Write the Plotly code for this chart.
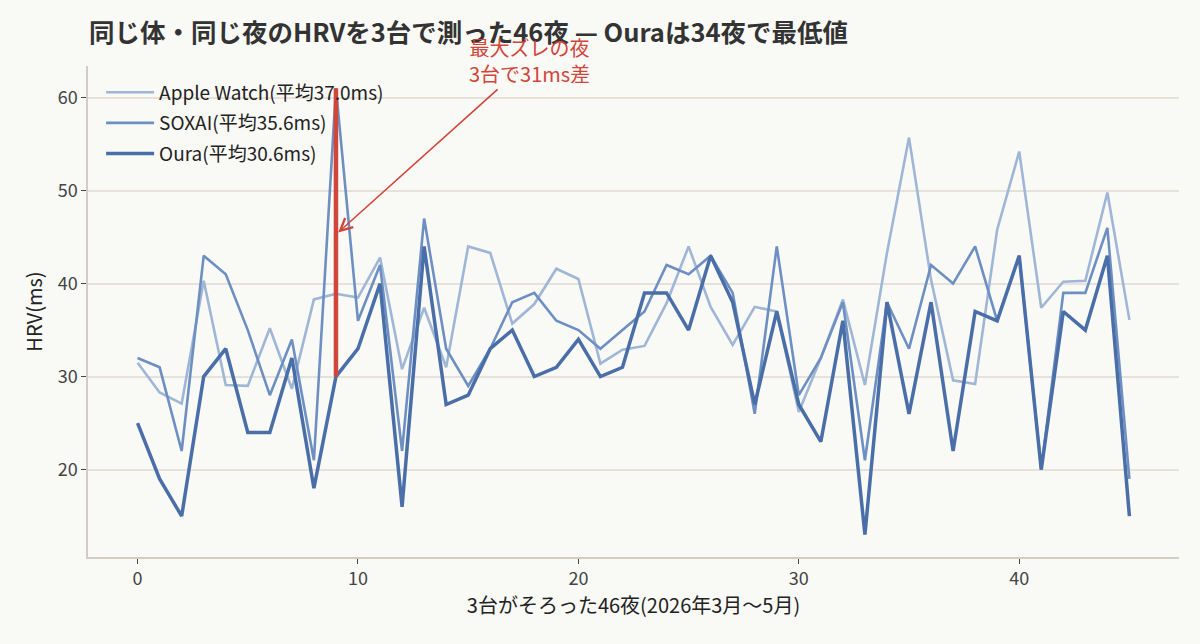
import plotly.graph_objects as go

nights = list(range(46))
apple = [31.5, 28.3, 27.1, 40.3, 29.1, 29.0, 35.2, 28.7, 38.3, 38.9,
         38.5, 42.8, 30.8, 37.4, 31.0, 44.0, 43.3, 35.7, 37.8, 41.6,
         40.5, 31.4, 32.9, 33.3, 37.9, 44.0, 37.5, 33.4, 37.5, 37.0,
         26.2, 32.0, 38.3, 29.1, 43.3, 55.7, 40.4, 29.6, 29.2, 45.8,
         54.2, 37.4, 40.2, 40.3, 49.8, 36.1]
soxai = [32, 31, 22, 43, 41, 35, 28, 34, 21, 61,
         36, 42, 22, 47, 33, 29, 33, 38, 39, 36,
         35, 33, 35, 37, 42, 41, 43, 39, 26, 44,
         28, 32, 38, 21, 38, 33, 42, 40, 44, 36,
         43, 20, 39, 39, 46, 19]
oura = [25, 19, 15, 30, 33, 24, 24, 32, 18, 30,
        33, 40, 16, 44, 27, 28, 33, 35, 30, 31,
        34, 30, 31, 39, 39, 35, 43, 38, 27, 37,
        27, 23, 36, 13, 38, 26, 38, 22, 37, 36,
        43, 20, 37, 35, 43, 15]

names = ["Apple Watch", "SOXAI", "Oura"]
series = [apple, soxai, oura]
colors = ["#9fb6d6", "#6d8fc2", "#4a6fa8"]
widths = [2.6, 2.6, 3.5]

FONT = "Noto Sans CJK JP"
BG = "#f9f9f6"

fig = go.Figure()
for nm, vals, c, w in zip(names, series, colors, widths):
    mean = sum(vals) / len(vals)
    fig.add_trace(go.Scatter(x=nights, y=vals, mode="lines",
                             name=f"{nm}(平均{mean:.1f}ms)", legendgroup=nm,
                             line=dict(color=c, width=w)))

# night with the largest spread
spreads = [max(a, s, o) - min(a, s, o) for a, s, o in zip(apple, soxai, oura)]
imax = spreads.index(max(spreads))
vmax = max(apple[imax], soxai[imax], oura[imax])
vmin = min(apple[imax], soxai[imax], oura[imax])
fig.add_trace(go.Scatter(x=[imax, imax], y=[vmin, vmax], mode="lines",
                         line=dict(color="#d0463b", width=4.5),
                         showlegend=False, hoverinfo="skip"))

fig.add_annotation(x=imax + 0.1, y=(vmin + vmax) / 2, xref="x", yref="y",
                   ax=17.8, ay=64.0, axref="x", ayref="y",
                   text=f"最大ズレの夜<br>3台で{vmax - vmin:.0f}ms差",
                   showarrow=True, arrowhead=5, arrowsize=1.5, arrowwidth=1.6,
                   arrowcolor="#d0463b", standoff=0,
                   font=dict(family=FONT, size=20, color="#d0463b"),
                   align="center")

fig.update_layout(
    width=1200, height=644,
    paper_bgcolor=BG, plot_bgcolor=BG,
    margin=dict(l=88, r=21, t=66, b=87),
    font=dict(family=FONT, size=18, color="#333333"),
    title=dict(text="<b>同じ体・同じ夜のHRVを3台で測った46夜 — Ouraは34夜で最低値</b>",
               x=89 / 1200, xref="container", xanchor="left",
               y=1 - 33 / 644, yref="container", yanchor="middle",
               font=dict(family=FONT, size=25.5, color="#333333")),
    legend=dict(x=0.012, y=0.985, xanchor="left", yanchor="top",
                bgcolor="rgba(0,0,0,0)", font=dict(family=FONT, size=19, color="#222222"),
                itemwidth=48, tracegroupgap=3),
    showlegend=True,
)
fig.update_xaxes(range=[-2.25, 47.25], tickvals=[0, 10, 20, 30, 40],
                 showgrid=False, zeroline=False,
                 showline=True, linecolor="#d3ccc2", linewidth=1.5,
                 ticks="outside", ticklen=5, tickcolor="#444444", tickwidth=1.2,
                 tickfont=dict(family=FONT, size=18, color="#444444"),
                 title=dict(text="3台がそろった46夜(2026年3月〜5月)",
                            font=dict(family=FONT, size=20, color="#222222"), standoff=8))
fig.update_yaxes(range=[10.6, 63.4], tickvals=[20, 30, 40, 50, 60],
                 showgrid=True, gridcolor="#e6e1d9", gridwidth=1.5, zeroline=False,
                 showline=True, linecolor="#d3ccc2", linewidth=1.5,
                 ticks="outside", ticklen=5, tickcolor="#444444", tickwidth=1.2,
                 tickfont=dict(family=FONT, size=18, color="#444444"),
                 title=dict(text="HRV(ms)",
                            font=dict(family=FONT, size=20, color="#222222"), standoff=10))

fig.write_html("out.html", config={"displayModeBar": False},
               post_script="document.body.style.margin='0';"
                           "document.body.style.background='" + BG + "';")
